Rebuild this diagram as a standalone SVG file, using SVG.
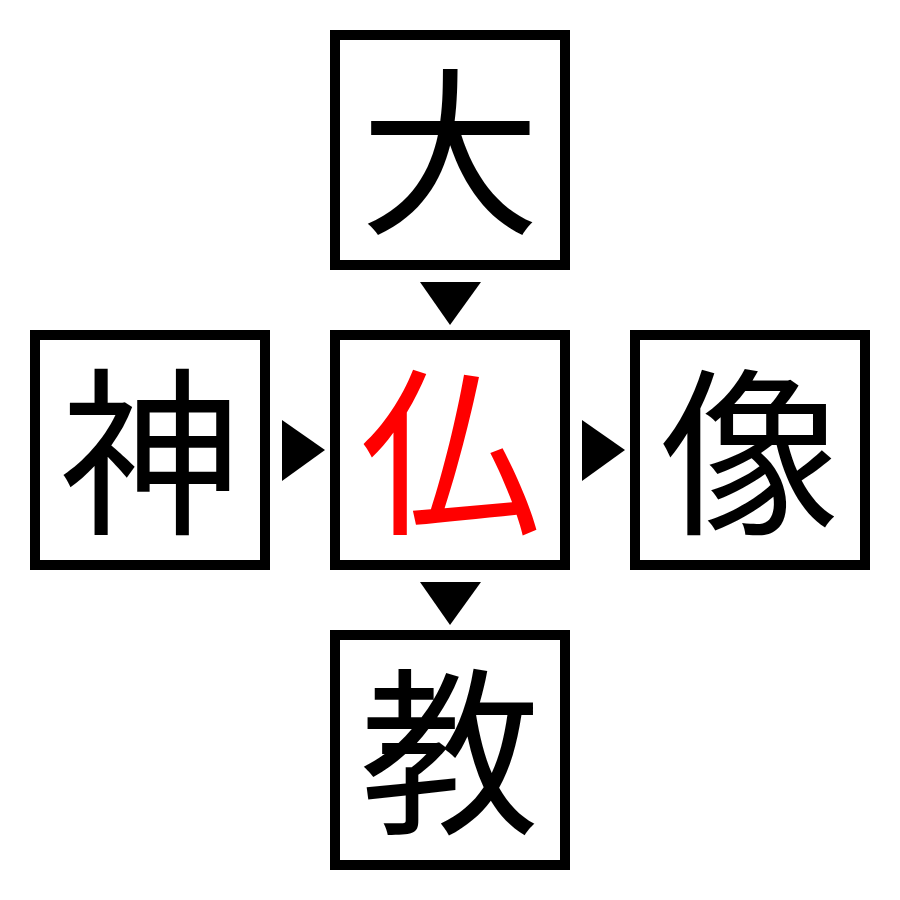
<svg xmlns="http://www.w3.org/2000/svg" width="900" height="900" viewBox="0 0 900 900">
<style>
.box{fill:#fff;stroke:#000;stroke-width:10}
.k{font-family:"Noto Sans CJK JP","Noto Sans CJK SC",sans-serif;font-size:180px;text-anchor:middle;fill:#000}
.red{fill:#ff0000}
.arr{fill:#000}
</style>
<rect width="900" height="900" fill="#fff"/>
<g id="top"><rect class="box" x="335" y="35" width="230" height="230"/><text class="k" x="450" y="220">大</text></g>
<g id="left"><rect class="box" x="35" y="335" width="230" height="230"/><text class="k" x="150" y="520">神</text></g>
<g id="center"><rect class="box" x="335" y="335" width="230" height="230"/><text class="k red" x="450" y="520">仏</text></g>
<g id="right"><rect class="box" x="635" y="335" width="230" height="230"/><text class="k" x="750" y="520">像</text></g>
<g id="bottom"><rect class="box" x="335" y="635" width="230" height="230"/><text class="k" x="450" y="820">教</text></g>
<g id="connectors">
<polygon class="arr" points="420,282 481,282 450,325"/>
<polygon class="arr" points="282,420 282,481 325,450"/>
<polygon class="arr" points="582,420 582,481 625,450"/>
<polygon class="arr" points="420,582 481,582 450,625"/>
</g>
</svg>
